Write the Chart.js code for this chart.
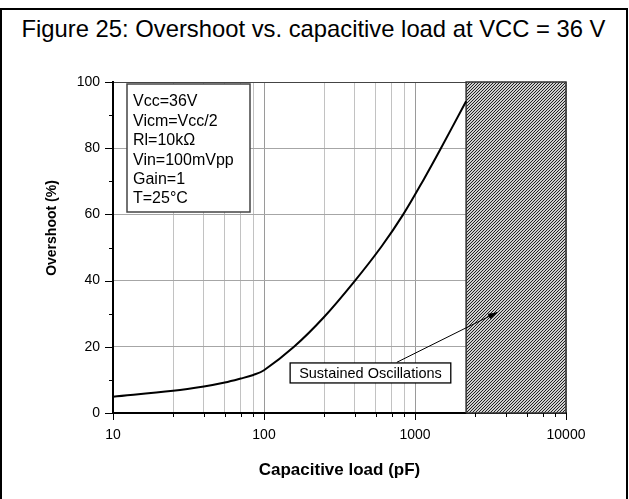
<!DOCTYPE html>
<html>
<head>
<meta charset="utf-8">
<script src="https://cdn.jsdelivr.net/npm/chart.js@4.4.0/dist/chart.umd.min.js"></script>
<style>
  html, body { margin: 0; padding: 0; background: #fff; }
  #frame { position: absolute; left: 0; top: 8px; width: 624px; height: 520px; border: 2px solid #000; }
  #title { position: absolute; left: 0; top: 14px; width: 627px; text-align: center;
           font: 23.8px 'Liberation Sans', Arial, sans-serif; line-height: 30px; color: #000; white-space: nowrap; }
  #chart { position: absolute; left: 0; top: 0; }
</style>
</head>
<body>
<div id="frame"></div>
<div id="title">Figure 25: Overshoot vs. capacitive load at VCC = 36 V</div>
<canvas id="chart" width="629" height="499"></canvas>
<script>
// overshoot curve
const capacitance = [10, 25, 40, 55, 70, 85, 100, 158, 250, 396, 600, 836, 1150, 1470, 2180];
const overshoot = [4.9, 6.7, 8.0, 9.2, 10.4, 11.5, 12.9, 20, 29, 39.7, 50.3, 60, 70.8, 79.6, 94.2];

// region of sustained oscillations (pF)
const oscStart = 2180;
const oscEnd = 10000;

const xTicks = [10, 25, 40, 55, 70, 85, 100, 250, 400, 550, 700, 850, 1000, 2500, 4000, 5500, 7000, 8500, 10000];
const xLabels = [10, 100, 1000, 10000];
const yLabels = [0, 20, 40, 60, 80, 100];

const conditions = ['Vcc=36V', 'Vicm=Vcc/2', 'Rl=10kΩ', 'Vin=100mVpp', 'Gain=1', 'T=25°C'];

const FONT = "'Liberation Sans', Arial, sans-serif";

function hatchPattern() {
    const n = 3;
    const c = document.createElement('canvas');
    c.width = n; c.height = n;
    const g = c.getContext('2d');
    g.fillStyle = '#cfcfcf';
    g.fillRect(0, 0, n, n);
    g.strokeStyle = '#222';
    g.lineWidth = 1;
    g.beginPath();
    g.moveTo(-1, n + 1); g.lineTo(n + 1, -1);
    g.moveTo(-1, 1); g.lineTo(1, -1);
    g.moveTo(n - 1, n + 1); g.lineTo(n + 1, n - 1);
    g.stroke();
    return g.createPattern(c, 'repeat');
}

const decorations = {
    id: 'decorations',
    afterDatasetsDraw(chart) {
        const {ctx, chartArea: a, scales: {x, y}} = chart;
        ctx.save();

        // tick marks
        ctx.strokeStyle = '#000';
        ctx.lineWidth = 1;
        xTicks.forEach(v => {
            const px = Math.round(x.getPixelForValue(v)) + 0.5;
            const len = xLabels.includes(v) ? 7 : 4;
            ctx.beginPath();
            ctx.moveTo(px, a.bottom);
            ctx.lineTo(px, a.bottom + len);
            ctx.stroke();
        });
        for (let v = 0; v <= 100; v += 10) {
            const py = Math.round(y.getPixelForValue(v)) + 0.5;
            const len = yLabels.includes(v) ? 8 : 4;
            ctx.beginPath();
            ctx.moveTo(a.left, py);
            ctx.lineTo(a.left - len, py);
            ctx.stroke();
        }

        // test conditions box
        const bx = a.left + 14, by = a.top + 2, bw = 123, bh = 128;
        ctx.fillStyle = '#fff';
        ctx.fillRect(bx, by, bw, bh);
        ctx.strokeStyle = '#444';
        ctx.lineWidth = 1.5;
        ctx.strokeRect(bx, by, bw, bh);
        ctx.fillStyle = '#000';
        ctx.font = '16px ' + FONT;
        ctx.textBaseline = 'middle';
        ctx.textAlign = 'left';
        conditions.forEach((t, i) => ctx.fillText(t, bx + 6, by + 18 + i * 19.4));

        // annotation arrow
        const x0 = x.getPixelForValue(757), y0 = y.getPixelForValue(15.3);
        const x1 = x.getPixelForValue(3500), y1 = y.getPixelForValue(30.4);
        ctx.strokeStyle = '#000';
        ctx.lineWidth = 1;
        ctx.beginPath();
        ctx.moveTo(x0, y0);
        ctx.lineTo(x1, y1);
        ctx.stroke();
        const ang = Math.atan2(y1 - y0, x1 - x0);
        ctx.fillStyle = '#000';
        ctx.beginPath();
        ctx.moveTo(x1, y1);
        ctx.lineTo(x1 - 9 * Math.cos(ang) + 3 * Math.sin(ang), y1 - 9 * Math.sin(ang) - 3 * Math.cos(ang));
        ctx.lineTo(x1 - 9 * Math.cos(ang) - 3 * Math.sin(ang), y1 - 9 * Math.sin(ang) + 3 * Math.cos(ang));
        ctx.closePath();
        ctx.fill();

        // annotation label
        const lx = x.getPixelForValue(507), ly = y.getPixelForValue(12.1);
        ctx.font = '14.5px ' + FONT;
        const tw = ctx.measureText('Sustained Oscillations').width;
        ctx.fillStyle = '#fff';
        ctx.fillRect(lx - tw / 2 - 9, ly - 10, tw + 18, 20);
        ctx.strokeStyle = '#000';
        ctx.lineWidth = 1.3;
        ctx.strokeRect(lx - tw / 2 - 9, ly - 10, tw + 18, 20);
        ctx.fillStyle = '#000';
        ctx.textAlign = 'center';
        ctx.fillText('Sustained Oscillations', lx, ly + 1);

        // y axis title
        ctx.save();
        ctx.translate(52, 228);
        ctx.rotate(-Math.PI / 2);
        ctx.font = 'bold 14px ' + FONT;
        ctx.textAlign = 'center';
        ctx.textBaseline = 'middle';
        ctx.fillText('Overshoot (%)', 0, 0);
        ctx.restore();

        ctx.restore();
    }
};

new Chart(document.getElementById('chart'), {
    type: 'line',
    data: {
        datasets: [{
            data: capacitance.map((c, i) => ({x: c, y: overshoot[i]})),
            borderColor: '#000',
            borderWidth: 2,
            pointRadius: 0,
            tension: 0.35,
            fill: false,
            order: 0
        }, {
            data: [
                {x: oscStart, y: 0}, {x: oscStart, y: 100},
                {x: oscEnd, y: 100}, {x: oscEnd, y: 0}, {x: oscStart, y: 0}
            ],
            borderColor: '#333',
            borderWidth: 1.5,
            backgroundColor: hatchPattern(),
            pointRadius: 0,
            tension: 0,
            fill: 'shape',
            clip: 4,
            order: 1
        }]
    },
    options: {
        responsive: false,
        animation: false,
        layout: {padding: {left: 0, top: 82, right: 63, bottom: 0}},
        plugins: {
            legend: {display: false},
            tooltip: {enabled: false}
        },
        scales: {
            x: {
                type: 'logarithmic',
                min: 10,
                max: 10000,
                afterBuildTicks: s => { s.ticks = xTicks.map(v => ({value: v})); },
                afterFit: s => { s.height = 86; },
                border: {color: '#000', width: 2},
                grid: {
                    drawTicks: false,
                    color: c => xLabels.includes(c.tick.value) ? '#9a9a9a' : '#c2c2c2',
                    lineWidth: 1
                },
                ticks: {
                    autoSkip: false,
                    maxRotation: 0,
                    padding: 14,
                    color: '#000',
                    font: {family: FONT, size: 14},
                    callback: v => xLabels.includes(v) ? String(v) : ''
                },
                title: {
                    display: true,
                    text: 'Capacitive load (pF)',
                    color: '#000',
                    font: {family: FONT, size: 17, weight: 'bold'},
                    padding: {top: 0, bottom: 18}
                }
            },
            y: {
                min: 0,
                max: 100,
                afterFit: s => { s.width = 113; },
                border: {color: '#000', width: 2},
                grid: {
                    drawTicks: false,
                    color: c => {
                        const v = c.tick.value;
                        if (v === 100) return '#444';
                        return (v % 20 === 0 && v !== 0) ? '#a6a6a6' : 'rgba(0,0,0,0)';
                    },
                    lineWidth: 1
                },
                ticks: {
                    stepSize: 10,
                    autoSkip: false,
                    padding: 13,
                    color: '#000',
                    font: {family: FONT, size: 14},
                    callback: v => yLabels.includes(v) ? String(v) : ''
                }
            }
        }
    },
    plugins: [decorations]
});
</script>
</body>
</html>
